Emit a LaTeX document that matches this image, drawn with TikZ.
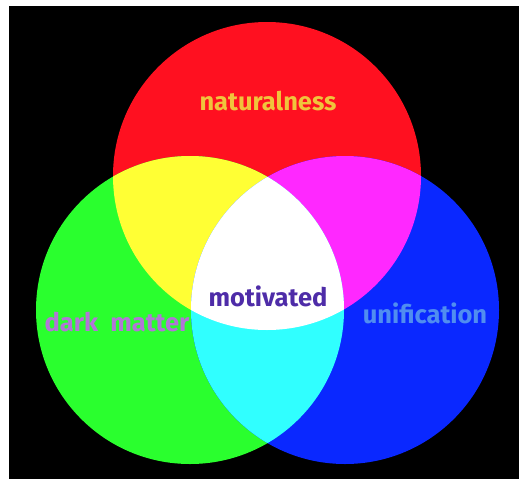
\documentclass[tikz,border=0pt]{standalone}
\usepackage{fontspec}
\setmainfont{Fira Sans}
\usepackage{tikz}
\usetikzlibrary{positioning}
\definecolor{myred}{RGB}{255,16,32}
\definecolor{mygreen}{RGB}{42,255,46}
\definecolor{myblue}{RGB}{10,40,255}
\definecolor{myyellow}{RGB}{255,255,52}
\definecolor{mymagenta}{RGB}{255,40,255}
\definecolor{mycyan}{RGB}{48,255,255}
\definecolor{txtgold}{RGB}{240,196,60}
\definecolor{txtlilac}{RGB}{178,118,214}
\definecolor{txtpurple}{RGB}{78,44,168}
\definecolor{txtblue}{RGB}{80,142,240}
\tikzset{
  setlabel/.style={font=\fontsize{25.5}{30}\selectfont\bfseries, inner sep=0pt}
}

\begin{document}
\begin{tikzpicture}[x=1pt, y=-1pt]
  % Frame
  \useasboundingbox (0,0) rectangle (519,479);
  \fill[white] (0,0) rectangle (519,479);
  \fill[black] (9,6) rectangle (519,479);

  % Centres
  \coordinate (cnat) at (267,176);
  \coordinate (cdark) at (190,310);
  \coordinate (cuni) at (345,310);
  \def\rad{154}

  % Discs
  \fill[myred] (cnat) circle (\rad);
  \fill[mygreen] (cdark) circle (\rad);
  \fill[myblue] (cuni) circle (\rad);

  % Overlaps
  \begin{scope}
    \clip (cnat) circle (\rad);
    \fill[myyellow] (cdark) circle (\rad);
    \fill[mymagenta] (cuni) circle (\rad);
  \end{scope}
  \begin{scope}
    \clip (cdark) circle (\rad);
    \fill[mycyan] (cuni) circle (\rad);
    \clip (cuni) circle (\rad);
    \fill[white] (cnat) circle (\rad);
  \end{scope}

  % Labels
  \node[setlabel, text=txtgold] (nat) at (268,101) {naturalness};
  \node[setlabel, text=txtlilac] (dark) at (117,322) {dark\ \ matter};
  \node[setlabel, text=txtpurple] (mot) at (268,296) {motivated};
  \node[setlabel, text=txtblue] (uni) at (425,313) {unification};
\end{tikzpicture}
\end{document}
